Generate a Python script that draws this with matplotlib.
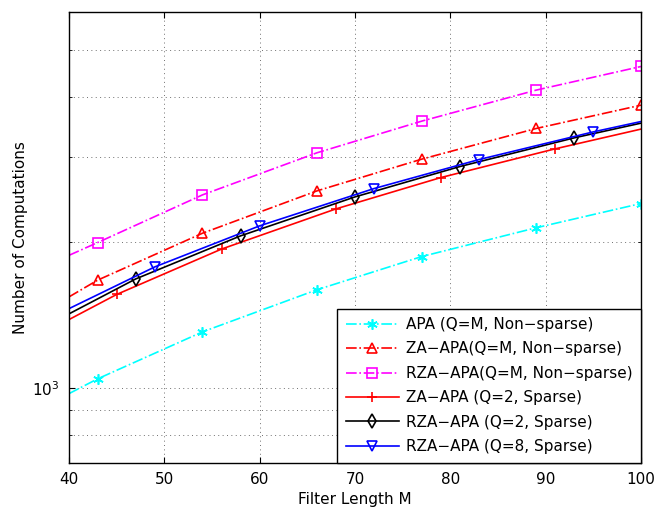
import matplotlib.pyplot as plt
from matplotlib.ticker import FixedLocator, NullFormatter

plt.rcParams['font.family'] = ['DejaVu Sans']
plt.rcParams['mathtext.fontset'] = 'dejavusans'

# values (filter length M -> number of computations)
m_apa = [40, 43, 54, 66, 77, 89, 100]
apa_nonsparse = [973, 1044, 1306, 1596, 1870, 2145, 2408]

m_za = [40, 43, 54, 66, 77, 89, 100]
za_nonsparse = [1543, 1671, 2090, 2557, 2975, 3443, 3848]

m_rza = [40, 43, 54, 66, 77, 89, 100]
rza_nonsparse = [1881, 1999, 2509, 3066, 3566, 4134, 4627]

m_za_q2 = [40, 45, 56, 68, 79, 91, 100]
za_q2_sparse = [1385, 1561, 1938, 2347, 2725, 3125, 3433]

m_rza_q2 = [40, 47, 58, 70, 81, 93, 100]
rza_q2_sparse = [1423, 1681, 2064, 2485, 2872, 3293, 3532]

m_rza_q8 = [40, 49, 60, 72, 83, 95, 100]
rza_q8_sparse = [1459, 1780, 2165, 2586, 2969, 3388, 3559]

labels = [
    "APA (Q=M, Non\u2212sparse)",
    "ZA\u2212APA(Q=M, Non\u2212sparse)",
    "RZA\u2212APA(Q=M, Non\u2212sparse)",
    "ZA\u2212APA (Q=2, Sparse)",
    "RZA\u2212APA (Q=2, Sparse)",
    "RZA\u2212APA (Q=8, Sparse)",
]

fig = plt.figure(figsize=(6.56, 5.14), dpi=100)
ax = fig.add_axes([0.1052, 0.0998, 0.8719, 0.8769])

full = [1, 2, 3, 4, 5, 6]
inner = [1, 2, 3, 4, 5]
style = dict(markersize=7.5, markerfacecolor='none', lw=1.2, markeredgewidth=1.2)

ax.plot(m_apa, apa_nonsparse, '-.', color='#00ffff', marker=(6, 2, 0),
        markevery=full, label=labels[0], **style)
ax.plot(m_za, za_nonsparse, '-.', color='#ff0000', marker='^',
        markevery=full, label=labels[1], **style)
ax.plot(m_rza, rza_nonsparse, '-.', color='#ff00ff', marker='s',
        markevery=full, label=labels[2], **style)
ax.plot(m_za_q2, za_q2_sparse, '-', color='#ff0000', marker='+',
        markevery=inner, label=labels[3], **style)
ax.plot(m_rza_q2, rza_q2_sparse, '-', color='k', marker='d',
        markevery=inner, label=labels[4], **style)
ax.plot(m_rza_q8, rza_q8_sparse, '-', color='#0000ff', marker='v',
        markevery=inner, label=labels[5], **style)

ax.set_yscale('log')
ax.set_xlim(40, 100)
ax.set_ylim(700, 6000)
ax.set_xticks(range(40, 101, 10))
ax.yaxis.set_major_locator(FixedLocator([1000]))
ax.yaxis.set_minor_locator(FixedLocator([700, 800, 900, 2000, 3000, 4000, 5000, 6000]))
ax.yaxis.set_minor_formatter(NullFormatter())

ax.grid(True, which='both', color='#333333', linestyle=(0, (1, 3.5)), lw=0.7, alpha=0.7)
ax.tick_params(which='both', direction='in', top=True, right=True, labelsize=11, pad=7)
ax.tick_params(which='major', length=4)
ax.tick_params(which='minor', length=2.5)
for s in ax.spines.values():
    s.set_linewidth(1.0)

ax.set_xlabel("Filter Length M", fontsize=11, labelpad=3)
ax.set_ylabel("Number of Computations", fontsize=11, labelpad=3)

leg = ax.legend(loc='lower right', borderaxespad=0, fancybox=False, framealpha=1,
                edgecolor='k', fontsize=11, handlelength=3.5, handletextpad=0.45,
                labelspacing=0.62, borderpad=0.55)
leg.get_frame().set_linewidth(1.0)

fig.savefig('out.png', dpi=100)
